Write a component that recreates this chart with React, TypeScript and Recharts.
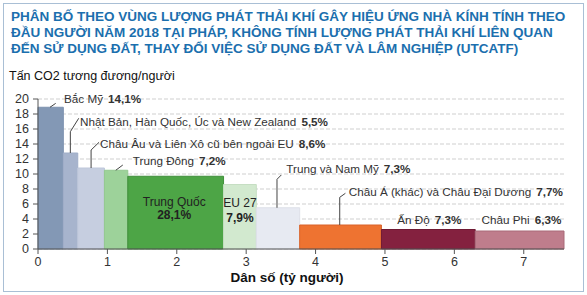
import React from "react";
import {
  ComposedChart,
  XAxis,
  YAxis,
  CartesianGrid,
  ReferenceArea,
  ReferenceLine,
  ReferenceDot,
} from "recharts";

// Per-capita GHG emissions by region (2018), bar width = population in billions
const regions = [
  "Bắc Mỹ",
  "Nhật Bản, Hàn Quốc, Úc và New Zealand",
  "Châu Âu và Liên Xô cũ bên ngoài EU",
  "Trung Đông",
  "Trung Quốc",
  "EU 27",
  "Trung và Nam Mỹ",
  "Châu Á (khác) và Châu Đại Dương",
  "Ấn Độ",
  "Châu Phi",
];
const population = [0.365, 0.208, 0.384, 0.337, 1.38, 0.472, 0.625, 1.178, 1.352, 1.279];
const perCapita = [18.9, 12.8, 10.8, 10.5, 9.7, 8.6, 5.5, 3.2, 2.6, 2.4];
const shares = ["14,1%", "5,5%", "8,6%", "7,2%", "28,1%", "7,9%", "7,3%", "7,7%", "7,3%", "6,3%"];
const colors = [
  "#8398b5", "#a7b4cd", "#c6cee0", "#9dd29a", "#4da546",
  "#d2e9cf", "#e7eaf2", "#ee7331", "#84213f", "#bf7d8c",
];
const strokes = [
  "#7d92b0", "#a0aec8", "#bec7da", "#93c890", "#3f8f3a",
  "#c6dec3", "#dde0e9", "#d9622a", "#6f1a34", "#a96b79",
];

const yTicks = [0, 2, 4, 6, 8, 10, 12, 14, 16, 18, 20];
const xTicks = [0, 1, 2, 3, 4, 5, 6, 7];

// build bar extents from cumulative population
let acc = 0;
const bars = regions.map((name, i) => {
  const x1 = acc;
  acc += population[i];
  return { name, x1, x2: acc, value: perCapita[i], share: shares[i], color: colors[i], stroke: strokes[i] };
});
const totalPop = acc;

// callout placement (data coordinates)
const callouts = [
  { i: 0, leader: [[0.173, 18.9], [0.255, 19.42]], at: [0.375, 19.96] },
  { i: 1, leader: [[0.466, 12.8], [0.466, 15.64], [0.587, 17.43]], at: [0.606, 16.97] },
  { i: 2, leader: [[0.765, 10.8], [0.765, 13.2], [0.88, 14.23]], at: [0.895, 14.0] },
  { i: 3, leader: [[1.121, 10.5], [1.222, 11.2]], at: [1.366, 11.73] },
  { i: 6, leader: [[3.444, 5.5], [3.444, 9.29], [3.506, 9.87]], at: [3.579, 10.63] },
  { i: 7, leader: [[4.348, 3.2], [4.348, 6.89], [4.43, 7.43]], at: [4.478, 7.64] },
  { i: 8, leader: [], at: [5.176, 3.87] },
  { i: 9, leader: [], at: [6.392, 3.87] },
];
const inside = [
  { i: 4, at: [1.963, 6.35], pctAt: 4.6 },
  { i: 5, at: [2.91, 6.2], pctAt: 4.2 },
];

const font = "'Liberation Sans', Arial, sans-serif";

function calloutText(name: string, pct: string) {
  return (props: any) => {
    const vb = props.viewBox || {};
    return (
      <text x={vb.x} y={vb.y} dy="0.35em" fontSize={11.7} fill="#333" fontFamily={font}>
        {name}
        <tspan dx={5} fontWeight="bold">{pct}</tspan>
      </text>
    );
  };
}

function centerText(txt: string, bold: boolean) {
  return (props: any) => {
    const vb = props.viewBox || {};
    return (
      <text x={vb.x} y={vb.y} dy="0.35em" textAnchor="middle" fontSize={12} fill="#222"
        fontFamily={font} fontWeight={bold ? "bold" : "normal"}>
        {txt}
      </text>
    );
  };
}

export default function App() {
  return (
    <div style={{ position: "absolute", left: 0, top: 0, width: 587, height: 295, background: "#fff", fontFamily: font }}>
      <div style={{ position: "absolute", left: 3, top: 3, width: 579, height: 287, border: "1px solid #a9bfd5" }} />
      <div style={{ position: "absolute", left: 11, top: 9, color: "#1b6fae", fontWeight: "bold", fontSize: 13.5, lineHeight: "16px", whiteSpace: "nowrap" }}>
        <div>PHÂN BỐ THEO VÙNG LƯỢNG PHÁT THẢI KHÍ GÂY HIỆU ỨNG NHÀ KÍNH TÍNH THEO</div>
        <div>ĐẦU NGƯỜI NĂM 2018 TẠI PHÁP, KHÔNG TÍNH LƯỢNG PHÁT THẢI KHÍ LIÊN QUAN</div>
        <div>ĐẾN SỬ DỤNG ĐẤT, THAY ĐỔI VIỆC SỬ DỤNG ĐẤT VÀ LÂM NGHIỆP (UTCATF)</div>
      </div>
      <div style={{ position: "absolute", left: 9, top: 68, fontSize: 12.5, lineHeight: "16px", color: "#111", whiteSpace: "nowrap" }}>
        Tấn CO2 tương đương/người
      </div>
      <div style={{ position: "absolute", left: 187, width: 200, textAlign: "center", top: 269, fontSize: 13.5, lineHeight: "18px", fontWeight: "bold", color: "#111" }}>
        Dân số (tỷ người)
      </div>
      <ComposedChart
        width={587}
        height={295}
        data={bars}
        margin={{ top: 99, right: 23, bottom: 0, left: 0 }}
        style={{ position: "absolute", left: 0, top: 0 }}
      >
        <CartesianGrid horizontal vertical={false} stroke="#cfcfcf" strokeDasharray="4 2" />
        <XAxis
          type="number"
          dataKey="x1"
          domain={[0, totalPop]}
          ticks={xTicks}
          interval={0}
          allowDataOverflow
          tickSize={5}
          tickMargin={3}
          axisLine={{ stroke: "#555" }}
          tickLine={{ stroke: "#555" }}
          tick={{ fontSize: 12.5, fill: "#333", fontFamily: font }}
          height={46}
        />
        <YAxis
          type="number"
          domain={[0, 20]}
          ticks={yTicks}
          interval={0}
          allowDataOverflow
          width={38}
          tickSize={5}
          tickMargin={4}
          axisLine={{ stroke: "#555" }}
          tickLine={{ stroke: "#555" }}
          tick={{ fontSize: 12.5, fill: "#333", fontFamily: font }}
        />
        {bars.map((b, i) => (
          <ReferenceArea
            key={"bar" + i}
            x1={b.x1}
            x2={b.x2}
            y1={0}
            y2={b.value}
            fill={b.color}
            fillOpacity={1}
            stroke={b.stroke}
            strokeWidth={1}
            ifOverflow="visible"
          />
        ))}
        {callouts.flatMap((c, k) =>
          c.leader.slice(1).map((p, j) => (
            <ReferenceLine
              key={"ld" + k + "-" + j}
              segment={[
                { x: c.leader[j][0], y: c.leader[j][1] },
                { x: p[0], y: p[1] },
              ]}
              stroke="#444"
              strokeWidth={1}
              ifOverflow="visible"
            />
          ))
        )}
        {callouts.map((c, k) => (
          <ReferenceDot
            key={"lb" + k}
            x={c.at[0]}
            y={c.at[1]}
            r={0}
            fill="none"
            stroke="none"
            ifOverflow="visible"
            label={{ content: calloutText(bars[c.i].name, bars[c.i].share) }}
          />
        ))}
        {inside.flatMap((c, k) => [
          <ReferenceDot
            key={"in" + k}
            x={c.at[0]}
            y={c.at[1]}
            r={0}
            fill="none"
            stroke="none"
            ifOverflow="visible"
            label={{ content: centerText(bars[c.i].name, false) }}
          />,
          <ReferenceDot
            key={"inp" + k}
            x={c.at[0]}
            y={c.pctAt}
            r={0}
            fill="none"
            stroke="none"
            ifOverflow="visible"
            label={{ content: centerText(bars[c.i].share, true) }}
          />,
        ])}
      </ComposedChart>
    </div>
  );
}
